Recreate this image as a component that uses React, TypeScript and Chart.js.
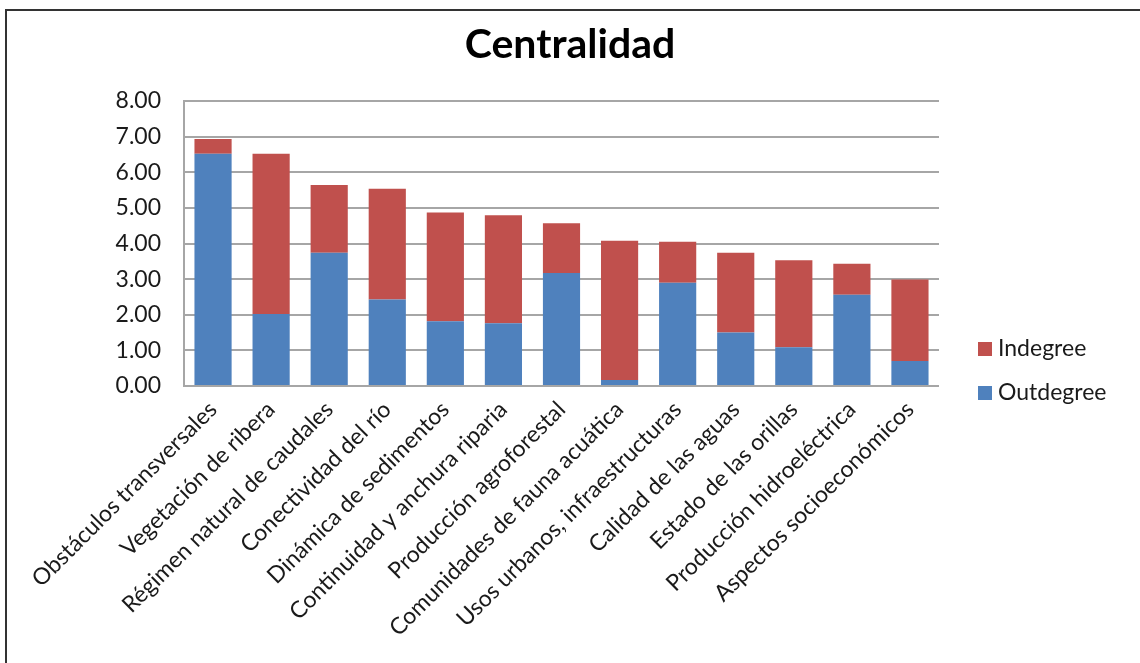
import React, { useEffect, useRef } from "react";
import { Chart, registerables } from "chart.js";

Chart.register(...registerables);

const categories = [
  "Obstáculos transversales",
  "Vegetación de ribera",
  "Régimen natural de caudales",
  "Conectividad del río",
  "Dinámica de sedimentos",
  "Continuidad y anchura riparia",
  "Producción agroforestal",
  "Comunidades de fauna acuática",
  "Usos urbanos, infraestructuras",
  "Calidad de las aguas",
  "Estado de las orillas",
  "Producción hidroeléctrica",
  "Aspectos socioeconómicos",
];

const outdegree = [6.52, 2.02, 3.74, 2.43, 1.82, 1.76, 3.17, 0.17, 2.9, 1.5, 1.09, 2.56, 0.7];
const indegree = [0.41, 4.5, 1.9, 3.11, 3.05, 3.03, 1.4, 3.91, 1.15, 2.24, 2.44, 0.87, 2.29];

const yTicks = [0, 1, 2, 3, 4, 5, 6, 7, 8];

const TITLE = "Centralidad";
const FONT = "Lato, 'Open Sans', sans-serif";
const BLUE = "#4F81BD";
const RED = "#C0504D";
const GRID = "#A6A6A6";
const TEXT = "#1a1a1a";

const framePlugin = {
  id: "frame",
  beforeDraw(chart: any) {
    const ctx = chart.ctx;
    ctx.save();
    ctx.fillStyle = "#ffffff";
    ctx.fillRect(0, 0, chart.width, chart.height);
    ctx.strokeStyle = "#333333";
    ctx.lineWidth = 2;
    ctx.beginPath();
    ctx.moveTo(6, chart.height);
    ctx.lineTo(6, 10);
    ctx.lineTo(chart.width, 10);
    ctx.stroke();
    ctx.fillStyle = "#000000";
    ctx.font = `bold 41px ${FONT}`;
    ctx.textAlign = "center";
    ctx.textBaseline = "alphabetic";
    ctx.fillText(TITLE, chart.width / 2, 58);
    ctx.restore();
  },
};

const legendPlugin = {
  id: "customLegend",
  afterDraw(chart: any) {
    const ctx = chart.ctx;
    const ds = chart.data.datasets;
    const x = chart.chartArea.right + 39;
    let y = 349;
    ctx.save();
    ctx.font = `23px ${FONT}`;
    ctx.textBaseline = "middle";
    ctx.textAlign = "left";
    for (let i = ds.length - 1; i >= 0; i--) {
      ctx.fillStyle = ds[i].backgroundColor;
      ctx.fillRect(x, y - 7, 14, 14);
      ctx.fillStyle = TEXT;
      ctx.fillText(ds[i].label, x + 20, y);
      y += 44;
    }
    ctx.restore();
  },
};

export default function App() {
  const ref = useRef<HTMLCanvasElement | null>(null);

  useEffect(() => {
    document.body.style.margin = "0";
    if (!ref.current) return;
    const chart = new Chart(ref.current, {
      type: "bar",
      data: {
        labels: categories,
        datasets: [
          {
            label: "Outdegree",
            data: outdegree,
            backgroundColor: BLUE,
            borderWidth: 0,
            categoryPercentage: 0.64,
            barPercentage: 1,
          },
          {
            label: "Indegree",
            data: indegree,
            backgroundColor: RED,
            borderWidth: 0,
            categoryPercentage: 0.64,
            barPercentage: 1,
          },
        ],
      },
      options: {
        responsive: false,
        animation: false,
        layout: { padding: { left: 0, right: 201, top: 101, bottom: 0 } },
        plugins: {
          legend: { display: false },
          tooltip: { enabled: false },
          title: { display: false },
        },
        scales: {
          x: {
            stacked: true,
            grid: { display: false },
            border: { display: false },
            ticks: {
              autoSkip: false,
              maxRotation: 45,
              minRotation: 45,
              color: TEXT,
              font: { family: FONT, size: 23 },
              padding: 2,
            },
            afterFit(scale: any) {
              scale.height = 277;
            },
          },
          y: {
            stacked: true,
            min: 0,
            max: 8,
            afterBuildTicks(scale: any) {
              scale.ticks = yTicks.map((v) => ({ value: v }));
            },
            grid: { color: GRID, lineWidth: 2, drawTicks: false },
            border: { display: true, color: GRID, width: 2 },
            ticks: {
              color: TEXT,
              font: { family: FONT, size: 23 },
              padding: 23,
              callback: (v: any) => Number(v).toFixed(2),
            },
            afterFit(scale: any) {
              scale.width = 184;
            },
          },
        },
      },
      plugins: [framePlugin, legendPlugin],
    });
    return () => chart.destroy();
  }, []);

  return <canvas ref={ref} width={1140} height={663} style={{ display: "block" }} />;
}
